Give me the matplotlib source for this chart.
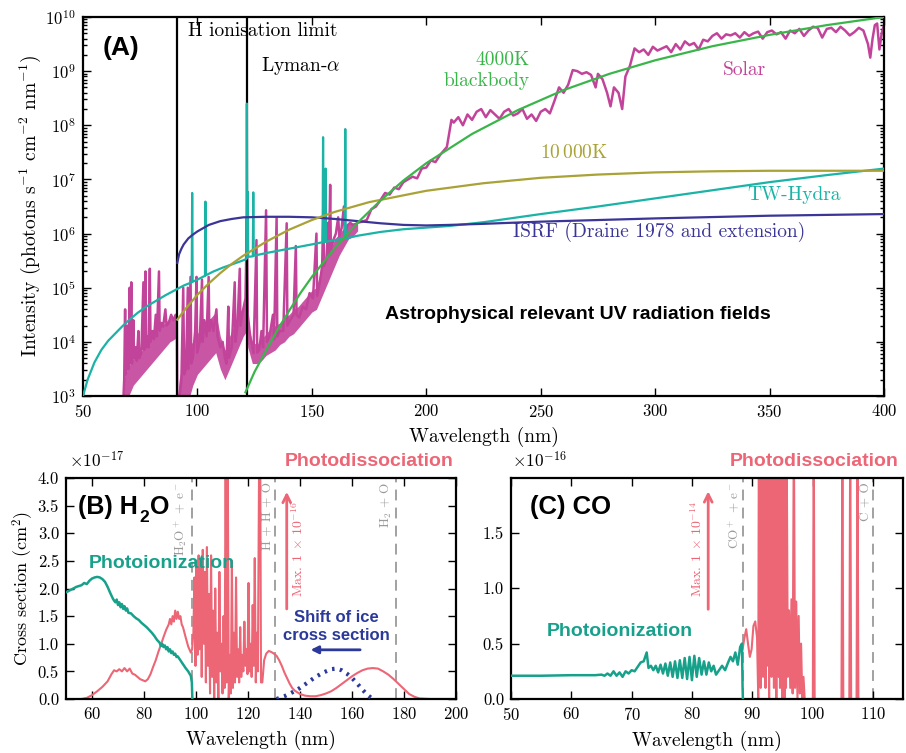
import matplotlib
matplotlib.use("Agg")
import matplotlib.pyplot as plt
import numpy as np

plt.rcParams['font.family'] = 'serif'
plt.rcParams['font.serif'] = ['cmr10']
plt.rcParams['mathtext.fontset'] = 'cm'
plt.rcParams['axes.formatter.use_mathtext'] = True
plt.rcParams['axes.unicode_minus'] = False

W, H = 906, 753
SANS = 'Liberation Sans'

c_solar = '#c2449a'
c_twhya = '#1ab3a6'
c_isrf = '#3a3597'
c_10k = '#a9a237'
c_4k = '#3ab54a'
c_ion = '#17a18b'
c_dis = '#ec6676'
c_ice = '#2b3a9a'
c_gray = '#9a9a9a'

# ---------------- panel A data (wavelength nm, log10 intensity) ----------------
bb4000_wl = [121, 125, 130, 135, 140, 145, 150, 160, 170, 180, 190, 200, 220, 240,
             260, 280, 300, 325, 350, 375, 400]
bb4000_log = [3.07, 3.45, 3.84, 4.22, 4.57, 4.90, 5.20, 5.73, 6.20, 6.61, 6.98, 7.30,
              7.84, 8.28, 8.65, 8.95, 9.20, 9.46, 9.67, 9.85, 10.0]

bb10k_wl = [91.2, 95, 100, 105, 110, 115, 120, 130, 140, 150, 160, 175, 200, 225,
            250, 275, 300, 325, 350, 375, 400]
bb10k_log = [4.41, 4.62, 4.87, 5.08, 5.27, 5.44, 5.59, 5.85, 6.07, 6.25, 6.40, 6.58,
             6.79, 6.93, 7.03, 7.09, 7.13, 7.15, 7.16, 7.16, 7.16]

isrf_wl = [91.2, 92, 93, 94, 96, 98, 100, 105, 110, 115, 120, 130, 140, 150, 160,
           170, 180, 190, 200, 210, 225, 250, 300, 350, 400]
isrf_log = [5.46, 5.62, 5.72, 5.80, 5.91, 5.98, 6.04, 6.16, 6.23, 6.27, 6.30, 6.31,
            6.31, 6.30, 6.27, 6.23, 6.19, 6.16, 6.15, 6.16, 6.18, 6.22, 6.28, 6.33, 6.36]

twhya_wl = [50, 52, 55, 58, 61, 64, 67, 70, 74, 78, 82, 86, 90, 94, 97.5, 97.7, 97.9,
            100, 103.3, 103.5, 103.7, 107, 111, 115, 119, 121.4, 121.6, 121.8, 122.0,
            122.2, 124.2, 124.4, 124.6, 130, 135, 140, 145, 150, 154.7, 154.9, 155.1,
            155.8, 156.0, 156.2, 160, 164.4, 164.6, 164.8, 170, 180, 190, 200, 210,
            225, 250, 275, 300, 325, 350, 375, 400]
twhya_log = [3.0, 3.3, 3.62, 3.85, 4.02, 4.15, 4.28, 4.4, 4.54, 4.66, 4.76, 4.86, 4.95,
             5.04, 5.1, 6.75, 5.11, 5.15, 5.22, 6.59, 5.23, 5.3, 5.37, 5.43, 5.49, 5.53,
             8.4, 5.56, 6.77, 5.57, 5.58, 6.76, 5.59, 5.64, 5.68, 5.72, 5.76, 5.8, 5.84,
             7.78, 5.84, 5.85, 7.2, 5.85, 5.88, 5.91, 7.93, 5.91, 5.96, 6.03, 6.08, 6.11,
             6.14, 6.21, 6.36, 6.5, 6.65, 6.8, 6.95, 7.08, 7.2]

# solar far-UV: dense emission band (lower / upper envelope) plus the strongest lines
solar_band_wl = [67.6, 68, 70, 72, 74, 76, 78, 80, 82, 84, 86, 88, 90, 91.1, 91.2, 92,
                 94, 96, 98, 100, 102, 104, 106, 108, 110, 112, 114, 116, 118, 120,
                 121.5, 122, 124, 126, 128, 130, 132, 134, 136, 138, 140, 142, 144, 146,
                 148, 150, 152, 154, 156, 158, 160, 162, 164, 166, 168, 170]
solar_band_hi = [3.0, 3.35, 3.55, 3.7, 3.75, 3.85, 3.95, 4.1, 4.15, 4.3, 4.35, 4.45,
                 4.45, 4.5, 2.9, 3.3, 3.7, 3.9, 4.0, 4.15, 4.3, 4.35, 4.45, 4.55, 4.1,
                 3.85, 4.1, 4.3, 4.45, 4.65, 4.8, 4.3, 4.0, 3.95, 4.05, 4.15, 4.25, 4.3,
                 4.35, 4.45, 4.5, 4.6, 4.65, 4.75, 4.85, 4.95, 5.0, 5.35, 5.55, 5.7, 5.9,
                 6.0, 6.1, 6.2, 6.2, 6.2]
solar_band_lo = [2.5, 2.8, 3.0, 3.2, 3.3, 3.4, 3.5, 3.6, 3.7, 3.8, 3.9, 4.0, 4.05, 4.1,
                 2.5, 2.5, 2.6, 2.9, 3.2, 3.4, 3.5, 3.6, 3.7, 3.8, 3.5, 3.3, 3.5, 3.7,
                 3.9, 4.1, 4.2, 3.9, 3.6, 3.6, 3.65, 3.75, 3.8, 3.85, 3.95, 4.0, 4.1,
                 4.15, 4.25, 4.35, 4.45, 4.55, 4.6, 4.8, 5.0, 5.2, 5.4, 5.6, 5.75, 5.9,
                 5.95, 6.05]

solar_wl = [67.6, 68.0, 68.4, 68.6, 69.2, 69.6, 69.9, 70.4, 70.6, 71.1, 71.4, 72.0, 72.3,
            73.0, 73.5, 74.2, 74.6, 75.5, 76.4, 76.7, 77.3, 77.6, 78.3, 78.7, 79.2, 79.5,
            80.3, 81.0, 81.8, 82.3, 83.2, 83.5, 84.3, 85.0, 86.0, 86.5, 87.5, 88.5, 89.5,
            90.5, 91.0, 91.2, 92.0, 93.0, 93.8, 94.2, 95.0, 95.8, 96.1, 97.0, 97.3, 98.0,
            99.0, 99.6, 99.9, 101.0, 102.0, 102.3, 103.0, 104.0, 104.9, 105.2, 106.0,
            107.0, 108.3, 108.8, 110.0, 111.0, 112.0, 112.7, 113.5, 113.8, 115.0, 116.3,
            116.6, 117.5, 118.5, 118.8, 120.0, 121.0, 121.6, 122.0, 122.9, 123.5, 124.5,
            125.8, 126.1, 127.0, 128.0, 128.7, 130.0, 130.4, 131.5, 133.0, 133.5, 134.6,
            134.9, 136.0, 137.5, 139.0, 139.3, 140.5, 142.0, 143.0, 143.3, 144.5, 146.0,
            147.5, 149.0, 150.5, 152.0, 152.3, 153.5, 154.5, 155.0, 155.3, 156.4, 157.2,
            157.5, 158.0, 158.3, 159.4, 160.5, 161.5, 162.0, 163.0, 164.0, 164.4, 165.5,
            166.8, 168.0, 170, 172, 174, 176, 178, 180, 182, 184, 186, 188, 190, 192, 194,
            196, 198, 200, 202, 204, 206, 208, 209, 210, 211, 212, 214, 216, 218, 220,
            222, 224, 226, 228, 230, 232, 234, 236, 238, 240, 242, 244, 246, 248, 250,
            252, 254, 256, 258, 260, 262, 264, 266, 268, 270, 272, 274, 275, 277, 279,
            280.5, 282, 284, 285.6, 287, 289, 291, 293, 295, 297, 299, 301, 303, 305,
            307, 309, 311, 313, 315, 317, 319, 321, 323, 325, 327, 329, 331, 333, 335,
            337, 339, 341, 343, 345, 347, 349, 351, 353, 355, 357, 359, 361, 363, 365,
            367, 369, 371, 373, 375, 377, 379, 381, 383, 385, 387, 389, 391, 393, 394,
            395, 396, 397, 398, 399, 400]
solar_log = [2.9, 3.3, 4.6, 3.4, 3.5, 4.3, 3.5, 5.0, 3.6, 5.1, 3.6, 4.4, 3.7,
             3.9, 3.65, 4.2, 3.7, 3.8, 5.1, 3.85, 5.3, 3.9, 4.1, 3.9, 5.35, 4.0,
             4.2, 4.05, 4.5, 4.1, 5.3, 4.2, 4.35, 4.28, 4.6, 4.3, 4.35, 4.5, 4.4,
             4.5, 4.46, 2.8, 2.9, 3.3, 5.0, 3.4, 3.5, 5.0, 3.5, 5.2, 3.6, 3.7,
             4.2, 5.2, 3.8, 4.0, 5.15, 4.0, 4.4, 4.1, 5.2, 4.2, 4.4,
             4.2, 4.6, 4.1, 3.9, 4.0, 3.7, 3.6, 4.65, 3.7, 3.9, 5.1,
             4.0, 4.3, 5.35, 4.3, 4.6, 4.8, 6.3, 4.5, 4.16, 4.0, 3.79,
             5.88, 3.8, 3.85, 4.2, 3.9, 6.43, 4.0, 4.1, 4.5, 4.05, 6.3,
             4.1, 4.2, 4.2, 6.19, 4.3, 4.4, 4.5, 5.77, 4.5, 4.45, 4.65,
             4.6, 4.9, 4.8, 6.0, 4.85, 5.1, 5.4, 6.4, 5.4, 5.55, 6.2,
             5.6, 6.9, 5.7, 5.88, 6.0, 6.3, 5.95, 6.1, 6.5, 6.0, 6.15,
             6.2, 6.15, 6.2, 6.22, 6.25, 6.45, 6.5, 6.62, 6.75, 6.72, 6.85, 6.82, 6.95, 7.0, 7.05,
             7.02, 7.2, 7.22, 7.35, 7.32, 7.45, 7.55, 7.6, 7.85, 8.1, 8.05, 8.15, 8.0, 8.2, 8.1,
             8.25, 8.3, 8.15, 8.28, 8.2, 8.12, 8.25, 8.3, 8.18, 8.22, 8.3, 8.12, 8.2, 8.08, 8.25,
             8.3, 8.22, 8.45, 8.7, 8.6, 8.75, 9.02, 9.0, 8.95, 8.98, 8.93, 8.7, 8.95, 8.85, 8.6,
             8.35, 8.7, 8.6, 8.3, 8.9, 9.1, 9.42, 9.35, 9.4, 9.3, 9.45, 9.38, 9.42, 9.46,
             9.35, 9.5, 9.4, 9.55, 9.48, 9.52, 9.4, 9.58, 9.55, 9.65, 9.7, 9.6, 9.68, 9.66, 9.7,
             9.62, 9.72, 9.65, 9.7, 9.73, 9.6, 9.72, 9.75, 9.68, 9.72, 9.6, 9.75, 9.7, 9.78, 9.65,
             9.75, 9.82, 9.8, 9.62, 9.78, 9.8, 9.72, 9.82, 9.75, 9.66, 9.72, 9.8, 9.75, 9.5, 9.25,
             9.6, 9.85, 9.88, 9.4, 9.7, 9.85]

# ---------------- panel B data (H2O, units of 1e-17 cm^2) ----------------
h2o_ion_wl = [50, 52, 54, 56, 57, 58, 59, 60, 61, 62, 63, 64, 65, 66, 67, 68, 68.5, 69,
              69.5, 70, 70.5, 71, 71.5, 72, 72.5, 73, 73.5, 74, 75, 76, 77, 78, 79, 80,
              81, 82, 83, 84, 85, 86, 86.5, 87, 87.5, 88, 88.5, 89, 89.5, 90, 90.5, 91,
              91.5, 92, 92.5, 93, 94, 95, 96, 97, 98, 98.4, 98.6]
h2o_ion = [1.93, 1.98, 2.03, 2.06, 2.1, 2.08, 2.14, 2.18, 2.2, 2.21, 2.2, 2.17, 2.12,
           2.03, 1.92, 1.82, 1.78, 1.75, 1.8, 1.7, 1.75, 1.66, 1.72, 1.63, 1.68, 1.6,
           1.64, 1.56, 1.55, 1.5, 1.46, 1.43, 1.38, 1.34, 1.3, 1.25, 1.2, 1.14, 1.07,
           1.02, 0.96, 1.0, 0.94, 0.97, 0.9, 0.94, 0.86, 0.9, 0.83, 0.86, 0.8, 0.82,
           0.76, 0.77, 0.7, 0.63, 0.56, 0.5, 0.42, 0.3, 0.0]

h2o_dis_wl = [56, 58, 60, 62, 64, 66, 67.5, 68.5, 69.5, 70.5, 71.5, 72.5, 73.5, 74.5,
              75.5, 76.5, 77.5, 78.5, 79.5, 80.5, 81.5, 82.5, 83.5, 84.5, 85.5, 86.5,
              87.5, 88.5, 89.5, 90, 90.5, 91, 91.5, 92, 92.5, 93, 93.5, 94, 94.5, 95,
              96, 97, 98, 98.5, 99.0, 99.4, 99.8, 100.2, 100.6, 101.0, 101.4, 101.8,
              102.2, 102.6, 103.0, 103.4, 103.8, 104.2, 104.6, 105.0, 105.4, 105.8,
              106.2, 106.6, 107.0, 107.4, 107.8, 108.2, 108.6, 109.0, 109.4, 109.8,
              110.2, 110.6, 111.0, 111.4, 111.8, 112.2, 112.6, 113.0, 113.4, 113.8,
              114.2, 114.6, 115.0, 115.4, 115.8, 116.2, 116.6, 117.0, 117.4, 117.8,
              118.2, 118.6, 119.0, 119.4, 119.8, 120.2, 120.6, 121.0, 121.4, 121.8,
              122.2, 122.6, 123.0, 123.4, 123.8, 124.3, 124.7, 125.0, 125.5, 126.2, 127,
              128, 129, 130, 131, 132, 133, 134, 135, 136, 137, 138, 140, 142, 144, 146,
              148, 150, 152, 154, 156, 158, 160, 162, 164, 166, 168, 170, 172, 174, 176,
              178, 180, 182, 184, 186, 190, 200]
h2o_dis = [0.0, 0.02, 0.07, 0.14, 0.22, 0.32, 0.45, 0.52, 0.5, 0.54, 0.5, 0.56, 0.5,
           0.55, 0.46, 0.44, 0.4, 0.36, 0.34, 0.32, 0.36, 0.45, 0.58, 0.7, 0.85, 0.98,
           1.12, 1.25, 1.35, 1.45, 1.35, 1.5, 1.4, 1.6, 1.45, 1.58, 1.45, 1.5, 1.35, 1.3,
           1.12, 0.95, 0.84, 0.9, 1.2, 2.2, 0.6, 2.5, 0.8, 2.6, 0.9, 2.4,
           0.4, 2.7, 1.0, 2.3, 0.3, 2.75, 0.6, 1.9, 0.1, 2.6,
           0.4, 1.6, 0.0, 2.0, 0.3, 1.2, 0.0, 2.3, 0.5, 1.0,
           0.1, 1.5, 0.2, 4.5, 0.3, 4.5, 0.0, 0.8, 0.1, 2.5,
           0.2, 1.2, 0.3, 2.2, 0.4, 0.9, 0.3, 1.3, 0.4, 0.8,
           0.5, 1.4, 0.6, 0.9, 0.45, 2.1, 0.5, 1.0, 0.4, 1.7,
           0.6, 2.55, 0.3, 1.2, 0.5, 4.5, 4.5, 0.3, 0.3, 0.7, 0.82,
           0.87, 0.85, 0.82, 0.78, 0.7, 0.6, 0.48, 0.38, 0.28, 0.2, 0.15, 0.09, 0.06, 0.05, 0.05,
           0.07, 0.1, 0.14, 0.2, 0.27, 0.34, 0.41, 0.47, 0.52, 0.55, 0.56, 0.55, 0.5, 0.44, 0.36,
           0.27, 0.18, 0.09, 0.04, 0.01, 0.0, 0.0]

ice_wl = [131, 134, 137, 140, 143, 146, 149, 152, 154, 156, 158, 160, 162, 164, 166, 168]
ice = [0.0, 0.05, 0.12, 0.2, 0.3, 0.4, 0.48, 0.54, 0.55, 0.52, 0.46, 0.38, 0.28, 0.17,
       0.07, 0.0]

h2o_limits = [98.5, 130.5, 177.0]
h2o_limit_labels = [r'H$_2$O$^+$ + e$^-$', 'H + H + O', r'H$_2$ + O']

# ---------------- panel C data (CO, units of 1e-16 cm^2) ----------------
co_ion_wl = [50, 55, 60, 64, 65, 65.5, 66, 66.5, 67, 67.5, 68, 68.5, 69, 69.5, 70, 70.5,
             71, 71.5, 72, 72.5, 72.8, 73.2, 73.6, 74, 74.4, 74.8, 75.2, 75.6, 76, 76.4,
             76.8, 77.2, 77.6, 78, 78.4, 78.8, 79.2, 79.6, 80, 80.4, 80.8, 81.2, 81.6, 82,
             82.4, 82.8, 83.2, 83.6, 84, 84.5, 85, 85.5, 86, 86.4, 86.8, 87.2, 87.6, 88,
             88.3, 88.4, 88.45]
co_ion = [0.21, 0.21, 0.215, 0.215, 0.22, 0.21, 0.23, 0.21, 0.25, 0.21, 0.24, 0.2, 0.25,
          0.23, 0.26, 0.25, 0.29, 0.33, 0.34, 0.42, 0.28, 0.3, 0.26, 0.3, 0.24, 0.31,
          0.23, 0.32, 0.21, 0.33, 0.2, 0.34, 0.19, 0.35, 0.19, 0.37, 0.18, 0.38, 0.17,
          0.39, 0.2, 0.37, 0.22, 0.34, 0.22, 0.33, 0.25, 0.3, 0.22, 0.26, 0.3, 0.26, 0.33,
          0.38, 0.34, 0.42, 0.31, 0.47, 0.5, 0.1, 0.0]

co_dis_wl = [88.4, 88.7, 89.0, 89.3, 89.6, 89.9, 90.2, 90.5, 90.8, 91.0, 91.1, 91.2,
             91.3, 91.4, 91.5, 91.6, 91.7, 91.8, 91.9, 92.0, 92.1, 92.2, 92.3, 92.4,
             92.5, 92.6, 92.7, 92.8, 92.9, 93.0, 93.1, 93.2, 93.3, 93.4, 93.5, 93.6,
             93.7, 93.8, 93.9, 94.0, 94.1, 94.2, 94.3, 94.4, 94.5, 94.6, 94.7, 94.8,
             94.9, 95.0, 95.1, 95.2, 95.3, 95.4, 95.5, 95.6, 95.7, 95.9, 96.1, 96.3,
             96.5, 96.7, 96.9, 97.1, 97.3, 97.5, 97.7, 97.9, 98.1, 98.3, 98.5, 98.7,
             100.05, 100.2, 100.35, 104.8, 104.95, 105.1, 106.1, 106.25, 106.4, 107.3,
             107.45, 107.6,
             115]
co_dis = [0.45, 0.55, 0.63, 0.5, 0.38, 0.45, 0.66, 0.7, 0.55, 0.0, 2.5, 0.3,
          2.5, 0.1, 2.5, 0.4, 2.5, 0.2, 2.5, 1.2, 2.5, 0.1, 2.5, 0.6,
          2.5, 0.3, 2.5, 0.0, 2.5, 0.8, 2.5, 0.2, 2.5, 1.5, 2.5, 0.1,
          2.5, 0.5, 2.5, 0.0, 2.5, 1.0, 2.5, 0.2, 2.5, 0.1, 2.5, 0.7,
          2.5, 0.0, 2.5, 0.4, 2.5, 0.0, 2.5, 0.1, 2.5, 0.2, 0.8, 0.1,
          0.9, 0.05, 2.5, 0.1, 0.88, 0.0, 0.75, 0.05, 0.5, 0.0, 0.2, 0.0,
          0.0, 2.5, 0.0, 0.0, 2.5, 0.0, 0.0, 2.5, 0.0, 0.0,
          2.5, 0.0,
          0.0]

co_limits = [88.4, 110.0]
co_limit_labels = [r'CO$^+$ + e$^-$', 'C + O']


def to_int(logs):
    return [10 ** v for v in logs]


def ftext(x, y, s, **kw):
    kw.setdefault('va', 'center')
    kw.setdefault('ha', 'left')
    fig.text(x / W, 1 - y / H, s, **kw)


def style_axes(ax):
    ax.tick_params(which='both', direction='in', top=True, right=True, labelsize=12,
                   width=1.0, pad=5)
    ax.tick_params(which='major', length=6)
    ax.tick_params(which='minor', length=3)
    for s in ax.spines.values():
        s.set_linewidth(1.6)


fig = plt.figure(figsize=(W / 100, H / 100), dpi=100)
SERIF = 14

# ---------------- panel A ----------------
axA = fig.add_axes([83 / W, 1 - 396 / H, 801 / W, 379 / H])
axA.fill_between(solar_band_wl, to_int(solar_band_lo), to_int(solar_band_hi),
                 color=c_solar, lw=0, alpha=0.9, zorder=2)
axA.plot(solar_wl, to_int(solar_log), color=c_solar, lw=1.8, zorder=2)
axA.axvline(91.2, color='black', lw=1.6, zorder=3)
axA.axvline(121.6, color='black', lw=1.6, zorder=3)
axA.plot(twhya_wl, to_int(twhya_log), color=c_twhya, lw=1.6, zorder=4)
axA.plot(isrf_wl, to_int(isrf_log), color=c_isrf, lw=1.6, zorder=4)
axA.plot(bb10k_wl, to_int(bb10k_log), color=c_10k, lw=1.6, zorder=4)
axA.plot(bb4000_wl, to_int(bb4000_log), color=c_4k, lw=1.6, zorder=5)
axA.set_yscale('log')
axA.set_xlim(50, 400)
axA.set_ylim(1e3, 1e10)
axA.set_xticks(range(50, 401, 50))
axA.set_xlabel('Wavelength (nm)', fontsize=SERIF, labelpad=5)
axA.set_ylabel(r'Intensity (photons s$^{-1}$ cm$^{-2}$ nm$^{-1}$)', fontsize=SERIF,
               labelpad=2)
style_axes(axA)

ftext(103, 48, '(A)', family=SANS, weight='bold', fontsize=19)
ftext(188, 31, 'H ionisation limit', fontsize=SERIF)
ftext(261, 66, r'Lyman-$\alpha$', fontsize=SERIF)
ftext(530, 60, '4000K', fontsize=SERIF, color=c_4k, ha='right')
ftext(530, 81, 'blackbody', fontsize=SERIF, color=c_4k, ha='right')
ftext(723, 70, 'Solar', fontsize=SERIF, color=c_solar)
ftext(540, 153, r'10$\,$000K', fontsize=SERIF, color=c_10k)
ftext(747, 195, 'TW-Hydra', fontsize=SERIF, color=c_twhya)
ftext(513, 232, 'ISRF (Draine 1978 and extension)', fontsize=SERIF, color=c_isrf)
ftext(385, 314, 'Astrophysical relevant UV radiation fields', family=SANS,
      weight='bold', fontsize=14)

# ---------------- panel B ----------------
axB = fig.add_axes([66 / W, 1 - 699 / H, 390 / W, 221 / H])
for x in h2o_limits:
    axB.axvline(x, color=c_gray, lw=1.3, dashes=(6, 4), zorder=1)
axB.plot(h2o_dis_wl, h2o_dis, color=c_dis, lw=1.5, zorder=2)
axB.plot(h2o_ion_wl, h2o_ion, color=c_ion, lw=1.8, zorder=3)
axB.plot(ice_wl, ice, color=c_ice, lw=3, ls=(0, (0.6, 1.3)), zorder=3)
axB.set_xlim(50, 200)
axB.set_ylim(0, 4.0)
axB.set_xticks(range(60, 201, 20))
axB.set_yticks(np.arange(0, 4.01, 0.5))
axB.yaxis.set_major_formatter(matplotlib.ticker.FormatStrFormatter('%.1f'))
axB.set_xlabel('Wavelength (nm)', fontsize=SERIF, labelpad=6)
axB.set_ylabel(r'Cross section (cm$^2$)', fontsize=13, labelpad=1)
style_axes(axB)
axB.annotate('', xy=(134.9, 3.8), xytext=(134.9, 1.58),
             arrowprops=dict(arrowstyle='->', color=c_dis, lw=2, mutation_scale=14))
axB.annotate('', xy=(143.0, 0.89), xytext=(164.2, 0.89),
             arrowprops=dict(arrowstyle='-|>', color=c_ice, lw=2, mutation_scale=11))

ftext(69, 460, r'$\times10^{-17}$', fontsize=12.5)
ftext(78, 507, '(B) H', family=SANS, weight='bold', fontsize=18)
ftext(139, 517, '2', family=SANS, weight='bold', fontsize=12.5)
ftext(150, 507, 'O', family=SANS, weight='bold', fontsize=18)
ftext(89, 563, 'Photoionization', family=SANS, weight='bold', fontsize=14, color=c_ion)
ftext(285, 462, 'Photodissociation', family=SANS, weight='bold', fontsize=14, color=c_dis)
ftext(336, 617, 'Shift of ice', family=SANS, weight='bold', fontsize=12, color=c_ice,
      ha='center')
ftext(336, 635, 'cross section', family=SANS, weight='bold', fontsize=12, color=c_ice,
      ha='center')
ftext(298, 549, r'Max. 1 $\times$ 10$^{-16}$', fontsize=10, color=c_dis, rotation=90,
      ha='center')
for px, s in zip([181, 267, 386], h2o_limit_labels):
    ftext(px, 482, s, fontsize=9.5, color=c_gray, rotation=90, ha='center', va='top')

# ---------------- panel C ----------------
axC = fig.add_axes([511 / W, 1 - 699 / H, 392 / W, 221 / H])
for x in co_limits:
    axC.axvline(x, color=c_gray, lw=1.3, dashes=(6, 4), zorder=1)
axC.plot(co_dis_wl, co_dis, color=c_dis, lw=1.5, zorder=2)
axC.plot(co_ion_wl, co_ion, color=c_ion, lw=1.8, zorder=3)
axC.set_xlim(50, 115)
axC.set_ylim(0, 1.995)
axC.set_xticks(range(50, 111, 10))
axC.set_yticks([0, 0.5, 1.0, 1.5])
axC.yaxis.set_major_formatter(matplotlib.ticker.FormatStrFormatter('%.1f'))
axC.set_xlabel('Wavelength (nm)', fontsize=SERIF, labelpad=6)
style_axes(axC)
axC.annotate('', xy=(82.7, 1.9), xytext=(82.7, 0.785),
             arrowprops=dict(arrowstyle='->', color=c_dis, lw=2, mutation_scale=14))

ftext(512, 460, r'$\times10^{-16}$', fontsize=12.5)
ftext(530, 507, '(C) CO', family=SANS, weight='bold', fontsize=18.5)
ftext(547, 631, 'Photoionization', family=SANS, weight='bold', fontsize=14, color=c_ion)
ftext(730, 462, 'Photodissociation', family=SANS, weight='bold', fontsize=14, color=c_dis)
ftext(697, 549, r'Max. 1 $\times$ 10$^{-14}$', fontsize=10, color=c_dis, rotation=90,
      ha='center')
for px, s in zip([735, 865], co_limit_labels):
    ftext(px, 482, s, fontsize=9.5, color=c_gray, rotation=90, ha='center', va='top')

fig.savefig('out.png', dpi=100)
